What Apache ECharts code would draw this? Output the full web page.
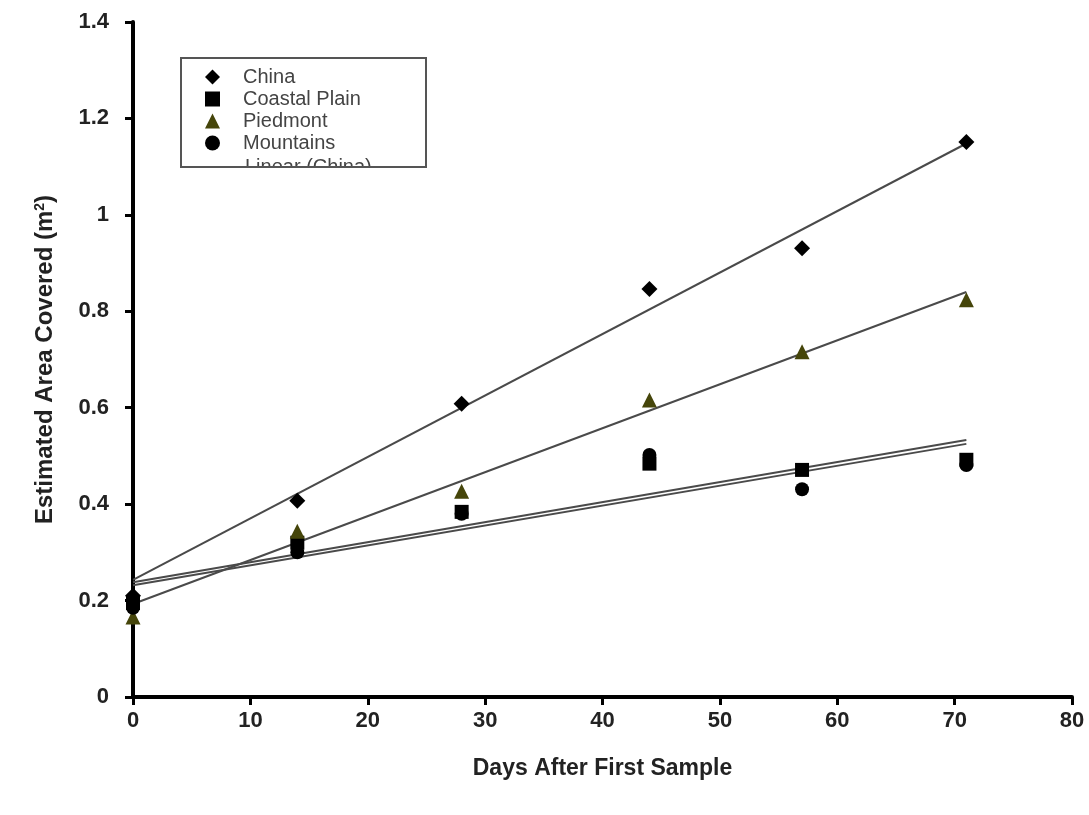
<!DOCTYPE html>
<html>
<head>
<meta charset="utf-8">
<script src="https://cdn.jsdelivr.net/npm/echarts@6/dist/echarts.min.js"></script>
<style>
  html, body { margin: 0; padding: 0; background: #fff; }
  #main { width: 1089px; height: 815px; }
</style>
</head>
<body>
<div id="main"></div>
<script>
// sample days
var days = [0, 14, 28, 44, 57, 71];
// measured area (m2) per region
var china = [0.21, 0.407, 0.608, 0.846, 0.931, 1.151];
var coastal = [0.195, 0.32, 0.384, 0.484, 0.471, 0.492];
var piedmont = [0.166, 0.344, 0.427, 0.616, 0.716, 0.824];
var mountains = [0.185, 0.30, 0.38, 0.502, 0.431, 0.481];
// linear trend lines, end points [day, value]
var trendDays = [0, 71];
var trendChina = [0.243, 1.148];
var trendCoastal = [0.238, 0.533];
var trendPiedmont = [0.193, 0.84];
var trendMountains = [0.232, 0.525];

function pairs(xs, ys) {
  return xs.map(function (x, i) { return [x, ys[i]]; });
}

var chart = echarts.init(document.getElementById('main'));

var diamond = 'path://M0,-1L1,0L0,1L-1,0Z';

function trend(name, ys) {
  return {
    name: name,
    type: 'line',
    data: pairs(trendDays, ys),
    symbol: 'none',
    lineStyle: { color: '#4a4a4a', width: 2 },
    z: 1,
    silent: true
  };
}

function pts(name, ys, symbol, size, color) {
  return {
    name: name,
    type: 'scatter',
    data: pairs(days, ys),
    symbol: symbol,
    symbolSize: size,
    itemStyle: { color: color, opacity: 1 },
    z: 3
  };
}

chart.setOption({
  animation: false,
  backgroundColor: '#fff',
  textStyle: { fontFamily: 'Liberation Sans, Arial, sans-serif' },
  grid: { left: 133, right: 17, top: 22, bottom: 118 },
  legend: {
    data: ['China', 'Coastal Plain', 'Piedmont', 'Mountains'],
    orient: 'vertical',
    left: 205,
    top: 67,
    padding: 0,
    itemWidth: 15,
    itemHeight: 15,
    itemGap: 2,
    textStyle: { color: '#444', fontSize: 20, lineHeight: 20, padding: [0, 0, 0, 18] }
  },
  xAxis: {
    type: 'value',
    min: 0,
    max: 80,
    interval: 10,
    name: 'Days After First Sample',
    nameLocation: 'middle',
    nameGap: 60,
    nameTextStyle: { color: '#222', fontSize: 23, fontWeight: 'bold' },
    axisLine: { lineStyle: { color: '#000', width: 4 } },
    axisTick: { show: true, length: 8, lineStyle: { color: '#000', width: 3 } },
    axisLabel: { color: '#222', fontSize: 22, fontWeight: 'bold', margin: 13 },
    splitLine: { show: false }
  },
  yAxis: {
    type: 'value',
    min: 0,
    max: 1.4,
    interval: 0.2,
    name: '{a|Estimated Area Covered (m}{s|2}{a|)}',
    nameLocation: 'middle',
    nameGap: 76,
    nameRotate: 90,
    nameTextStyle: {
      rich: {
        a: { color: '#222', fontSize: 24, fontWeight: 'bold' },
        s: { color: '#222', fontSize: 14, fontWeight: 'bold', verticalAlign: 'top', padding: [0, 0, 10, 0] }
      }
    },
    axisLine: { show: true, lineStyle: { color: '#000', width: 4 } },
    axisTick: { show: true, length: 8, lineStyle: { color: '#000', width: 3 } },
    axisLabel: { color: '#222', fontSize: 22, fontWeight: 'bold', margin: 24 },
    splitLine: { show: false }
  },
  graphic: [
    {
      type: 'text',
      left: 245,
      top: 157,
      z: 5,
      style: { text: 'Linear (China)', fill: '#444', fontSize: 20, fontFamily: 'Liberation Sans, Arial, sans-serif' }
    },
    {
      type: 'rect',
      shape: { x: 178, y: 167, width: 260, height: 18 },
      style: { fill: '#fff' },
      z: 6
    },
    {
      type: 'rect',
      shape: { x: 181, y: 58, width: 245, height: 109 },
      style: { fill: 'none', stroke: '#555', lineWidth: 2 },
      z: 7
    }
  ],
  series: [
    trend('Linear (China)', trendChina),
    trend('Linear (Coastal Plain)', trendCoastal),
    trend('Linear (Piedmont)', trendPiedmont),
    trend('Linear (Mountains)', trendMountains),
    pts('China', china, diamond, 16, '#000'),
    pts('Coastal Plain', coastal, 'rect', 14, '#000'),
    pts('Piedmont', piedmont, 'triangle', 15, '#45450a'),
    pts('Mountains', mountains, 'circle', 14, '#000')
  ]
});
</script>
</body>
</html>
